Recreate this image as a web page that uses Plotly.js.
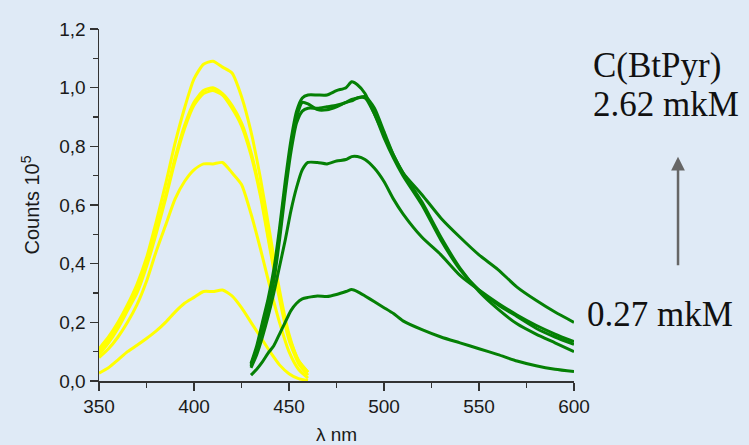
<!DOCTYPE html>
<html>
<head>
<meta charset="utf-8">
<script src="https://cdn.plot.ly/plotly-3.0.1.min.js"></script>
<style>html,body{margin:0;padding:0;background:#dfeaf6;}#chart{width:749px;height:445px;}</style>
</head>
<body>
<div id="chart"></div>
<script>
// Wavelength grids (nm)
const yellowX = [350,355,360,365,370,375,380,385,390,395,400,405,410,415,420,425,430,435,440,445,450,455,460];
const greenX  = [430,433,436,439,442,445,448,451,454,457,460,465,470,475,480,483,486,490,495,500,505,510,520,530,540,550,560,570,580,590,600];

// Excitation-side (yellow) spectra, Counts x 10^5
const yellow1 = [0.11,0.15,0.20,0.26,0.33,0.42,0.54,0.67,0.81,0.93,1.03,1.08,1.09,1.07,1.05,0.97,0.85,0.69,0.50,0.31,0.16,0.07,0.03];
const yellow2 = [0.10,0.14,0.19,0.25,0.31,0.40,0.51,0.63,0.76,0.87,0.95,0.99,1.00,0.98,0.94,0.88,0.78,0.64,0.46,0.29,0.15,0.07,0.03];
const yellow3 = [0.09,0.13,0.18,0.24,0.30,0.39,0.50,0.62,0.75,0.86,0.94,0.98,0.99,0.975,0.93,0.87,0.77,0.63,0.45,0.28,0.14,0.06,0.02];
const yellow4 = [0.08,0.11,0.15,0.20,0.26,0.34,0.44,0.53,0.62,0.68,0.72,0.74,0.74,0.745,0.71,0.67,0.57,0.45,0.32,0.20,0.10,0.04,0.01];
const yellow5 = [0.027,0.045,0.072,0.10,0.122,0.145,0.17,0.20,0.235,0.265,0.285,0.305,0.305,0.31,0.29,0.25,0.20,0.15,0.10,0.055,0.025,0.008,0.002];

// Emission-side (green) spectra, Counts x 10^5
const green1 = [0.06,0.12,0.20,0.28,0.38,0.52,0.68,0.82,0.92,0.965,0.975,0.975,0.975,0.99,1.00,1.02,1.01,0.98,0.91,0.84,0.77,0.71,0.635,0.555,0.49,0.43,0.38,0.32,0.275,0.235,0.20];
const green2 = [0.055,0.11,0.19,0.27,0.36,0.50,0.66,0.80,0.90,0.95,0.945,0.925,0.925,0.935,0.95,0.955,0.965,0.965,0.91,0.83,0.76,0.70,0.60,0.48,0.38,0.31,0.26,0.22,0.18,0.15,0.125];
const green3 = [0.05,0.10,0.17,0.25,0.34,0.48,0.64,0.78,0.88,0.92,0.93,0.93,0.935,0.94,0.95,0.96,0.965,0.97,0.93,0.85,0.77,0.71,0.61,0.49,0.385,0.305,0.245,0.195,0.16,0.13,0.10];
const green4 = [0.045,0.09,0.15,0.22,0.30,0.39,0.48,0.58,0.66,0.72,0.745,0.745,0.74,0.75,0.755,0.765,0.765,0.755,0.725,0.68,0.62,0.57,0.49,0.43,0.36,0.31,0.265,0.225,0.19,0.16,0.134];
const green5 = [0.02,0.04,0.065,0.095,0.12,0.16,0.20,0.24,0.265,0.28,0.285,0.29,0.288,0.295,0.305,0.312,0.305,0.29,0.27,0.25,0.23,0.205,0.175,0.15,0.13,0.11,0.09,0.068,0.052,0.04,0.032];

const yTickVals = [0,0.2,0.4,0.6,0.8,1.0,1.2];
const yTickText = ["0,0","0,2","0,4","0,6","0,8","1,0","1,2"];
const xTickVals = [350,400,450,500,550,600];

const yellows = [yellow1,yellow2,yellow3,yellow4,yellow5];
const greens = [green1,green2,green3,green4,green5];

const traces = [];
yellows.forEach(s => traces.push({x: yellowX, y: s, mode:'lines', line:{color:'#ffff00', width:3, shape:'spline', smoothing:0.6}, hoverinfo:'skip'}));
greens.forEach(s => traces.push({x: greenX, y: s, mode:'lines', line:{color:'#058005', width:3, shape:'spline', smoothing:0.6}, hoverinfo:'skip'}));

const tickFont = {family:'"Liberation Sans", Arial, sans-serif', size:19, color:'#1a1a1a'};
const titleFont = {family:'"Liberation Sans", Arial, sans-serif', size:20, color:'#1a1a1a'};
const serif = {family:'"Liberation Serif", "Times New Roman", serif', size:35, color:'#111'};

const layout = {
  width:749, height:445,
  margin:{l:99, r:175, t:29, b:64, pad:0},
  paper_bgcolor:'#dfeaf6', plot_bgcolor:'#dfeaf6',
  showlegend:false,
  xaxis:{
    range:[350,600], tickvals:xTickVals, ticktext:xTickVals.map(String),
    ticks:'outside', ticklen:8, tickwidth:1.5, tickcolor:'#333',
    showline:true, linecolor:'#333', linewidth:1.5, showgrid:false, zeroline:false,
    tickfont:tickFont,
    minor:{dtick:25, tick0:350, ticks:'outside', ticklen:5, tickwidth:1.5, tickcolor:'#333', showgrid:false},
    title:{text:'λ nm', font:tickFont, standoff:12}
  },
  yaxis:{
    range:[0,1.2], tickvals:yTickVals, ticktext:yTickText,
    ticks:'outside', ticklen:8, tickwidth:1.5, tickcolor:'#333',
    showline:true, linecolor:'#333', linewidth:1.5, showgrid:false, zeroline:false,
    tickfont:tickFont,
    minor:{dtick:0.1, tick0:0, ticks:'outside', ticklen:5, tickwidth:1.5, tickcolor:'#333', showgrid:false},
    title:{text:'Counts 10<sup>5</sup>', font:titleFont, standoff:14}
  },
  annotations:[
    {xref:'paper', yref:'paper', x:1.036, y:0.895, xanchor:'left', yanchor:'middle', text:'C(BtPyr)', showarrow:false, font:serif},
    {xref:'paper', yref:'paper', x:1.036, y:0.785, xanchor:'left', yanchor:'middle', text:'2.62 mkM', showarrow:false, font:serif},
    {xref:'paper', yref:'paper', x:1.023, y:0.19, xanchor:'left', yanchor:'middle', text:'0.27 mkM', showarrow:false, font:serif},
    {xref:'paper', yref:'paper', x:1.219, y:0.637, text:'', showarrow:true, ax:0, ay:110, arrowhead:2, arrowsize:1.1, arrowwidth:2.5, arrowcolor:'#666'}
  ]
};

Plotly.newPlot('chart', traces, layout, {staticPlot:true, displayModeBar:false});
</script>
</body>
</html>
